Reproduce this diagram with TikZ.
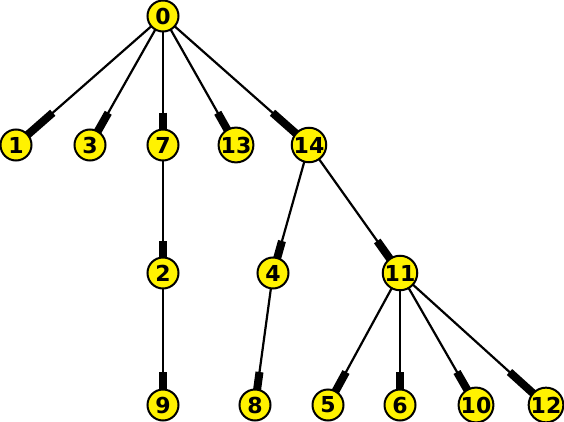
\documentclass[tikz,border=0pt]{standalone}
\usepackage{fontspec}
\setmainfont{DejaVu Sans}
\usetikzlibrary{calc,backgrounds}
\begin{document}
\begin{tikzpicture}[x=1pt,y=-1pt,
  v/.style={circle,draw=black,line width=2pt,fill=yellow,minimum size=31pt,inner sep=0pt,
    font=\bfseries\fontsize{22}{22}\selectfont},
  edgeline/.style={line width=2.2pt,black},
  barline/.style={line width=8pt,black}]
\useasboundingbox (0,0) rectangle (564,422);
\node[v] (0) at (163,16) {0};
\node[v] (1) at (16,145) {1};
\node[v] (3) at (90,145) {3};
\node[v] (7) at (163,145) {7};
\node[v] (13) at (236,145) {13};
\node[v] (14) at (309,145) {14};
\node[v] (2) at (163,273) {2};
\node[v] (4) at (273,273) {4};
\node[v] (11) at (400,273) {11};
\node[v] (9) at (163,405) {9};
\node[v] (8) at (255,405) {8};
\node[v] (5) at (328,405) {5};
\node[v] (6) at (400,405) {6};
\node[v] (10) at (476,405) {10};
\node[v] (12) at (546,405) {12};
\begin{pgfonlayer}{background}
\foreach \a/\b in {0/1,0/3,0/7,0/13,0/14,7/2,2/9,14/4,14/11,4/8,11/5,11/6,11/10,11/12}{
  \draw[edgeline] (\a.center) -- (\b.center);
  \draw[barline] ($(\a.center)!0.75!(\b.center)$) -- (\b.center);
}
\end{pgfonlayer}
\end{tikzpicture}
\end{document}
